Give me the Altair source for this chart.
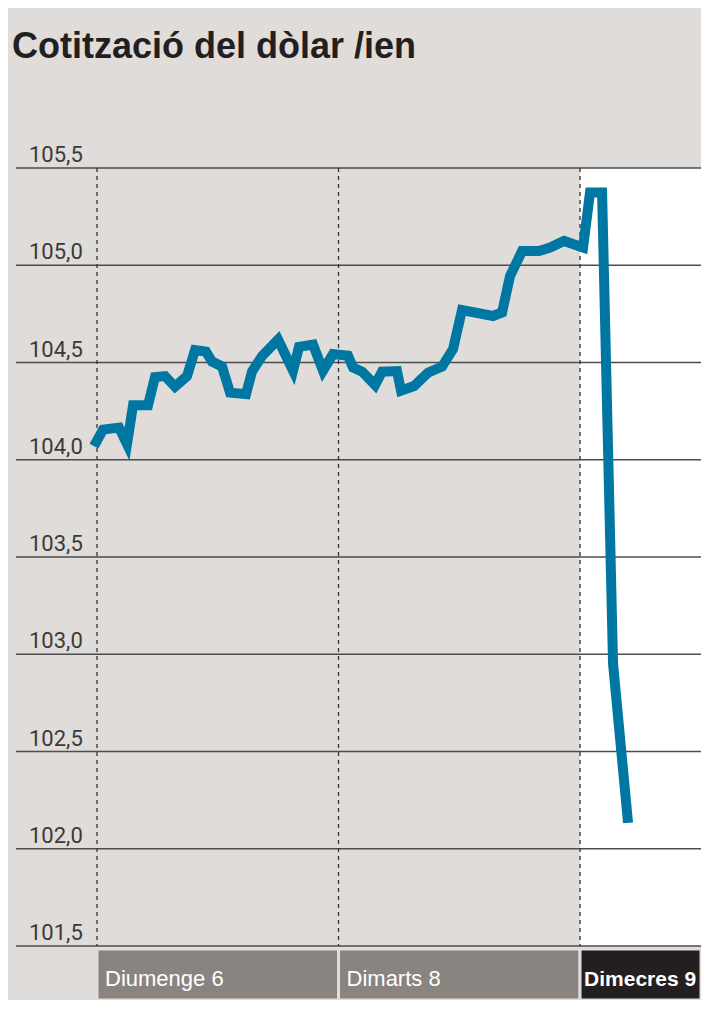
import altair as alt
import pandas as pd

# ---- data ----
title_text = "Cotització del dòlar /ien"

hours = [-0.30, 0.60, 2.19, 2.98, 3.58, 5.07, 5.76, 6.76, 7.75, 8.94,
         9.74, 10.83, 11.43, 12.42, 13.22, 14.81, 15.40, 16.40, 17.99, 19.48,
         20.07, 21.47, 22.46, 23.45, 24.94, 25.44, 26.34, 27.63, 28.32, 29.81,
         30.21, 31.50, 32.89, 34.29, 35.38, 36.27, 39.35, 40.25, 41.04, 42.24,
         43.93, 45.02, 46.41, 48.30, 48.99, 50.19, 51.28, 52.77]
values = [104.07, 104.155, 104.165, 104.08, 104.28, 104.28, 104.425, 104.43, 104.376, 104.43,
          104.564, 104.556, 104.505, 104.48, 104.345, 104.337, 104.453, 104.533, 104.618, 104.458,
          104.58, 104.592, 104.458, 104.543, 104.535, 104.474, 104.453, 104.384, 104.453, 104.456,
          104.355, 104.379, 104.448, 104.479, 104.569, 104.77, 104.739, 104.757, 104.944, 105.073,
          105.073, 105.091, 105.125, 105.091, 105.374, 105.374, 102.951, 102.133]

tick_values = [101.5, 102.0, 102.5, 103.0, 103.5, 104.0, 104.5, 105.0, 105.5]
tick_labels = ["101,5", "102,0", "102,5", "103,0", "103,5", "104,0", "104,5", "105,0", "105,5"]

day_labels = ["Diumenge 6", "Dimarts 8", "Dimecres 9"]
day_start = [0, 24, 48]
day_end = [24, 48, 60.02]
day_fill = ["#8a8480", "#8a8480", "#231f20"]
day_bold = [False, False, True]

X_DOMAIN = [-8.05, 60.02]
Y_DOMAIN = [101.5, 105.5]
BG = "#e0dcd9"

line_df = pd.DataFrame({"h": hours, "v": values})
tick_df = pd.DataFrame({"v": tick_values, "label": tick_labels})
day_df = pd.DataFrame({"start": day_start, "end": day_end, "label": day_labels,
                       "fill": day_fill, "bold": day_bold})
vline_df = pd.DataFrame({"start": day_start, "top": [Y_DOMAIN[1]] * 3, "bottom": [Y_DOMAIN[0]] * 3})
white_df = pd.DataFrame({"start": [day_start[2]], "end": [X_DOMAIN[1]],
                         "top": [Y_DOMAIN[1]], "bottom": [Y_DOMAIN[0]]})
title_df = pd.DataFrame({"t": [title_text]})

xs = alt.Scale(domain=X_DOMAIN, nice=False, zero=False)
ys = alt.Scale(domain=Y_DOMAIN, nice=False, zero=False)

white = alt.Chart(white_df).mark_rect(color="white").encode(
    x=alt.X("start:Q", scale=xs, axis=None), x2="end:Q",
    y=alt.Y("top:Q", scale=ys, axis=None), y2="bottom:Q")

grid = alt.Chart(tick_df).mark_rule(color="#4d4d4d", strokeWidth=1.3).encode(
    y=alt.Y("v:Q", scale=ys, axis=None))

vlines = alt.Chart(vline_df).mark_rule(color="#333333", strokeWidth=1.3, strokeDash=[4, 4]).encode(
    x=alt.X("start:Q", scale=xs, axis=None),
    y=alt.Y("top:Q", scale=ys, axis=None), y2="bottom:Q")

line = alt.Chart(line_df).mark_line(color="#0077a3", strokeWidth=10, strokeJoin="miter",
                                    strokeCap="butt").encode(
    x=alt.X("h:Q", scale=xs, axis=None),
    y=alt.Y("v:Q", scale=ys, axis=None))

ylabels = alt.Chart(tick_df).mark_text(align="left", baseline="alphabetic", dy=-6,
                                       font="Roboto", fontSize=22, fontWeight=400,
                                       color="#3a3a3a").encode(
    x=alt.value(13),
    y=alt.Y("v:Q", scale=ys, axis=None),
    text="label:N")

bands = alt.Chart(day_df).mark_rect(stroke=BG, strokeWidth=3).encode(
    x=alt.X("start:Q", scale=xs, axis=None), x2="end:Q",
    y=alt.value(781), y2=alt.value(832),
    color=alt.Color("fill:N", scale=None))

FONT_BAND = "Liberation Sans, Arial, sans-serif"
band_text_n = alt.Chart(day_df).transform_filter("!datum.bold").mark_text(
    align="left", baseline="alphabetic", dx=8, font=FONT_BAND, fontSize=22,
    color="white").encode(
    x=alt.X("start:Q", scale=xs, axis=None), y=alt.value(818), text="label:N")
band_text_b = alt.Chart(day_df).transform_filter("datum.bold").mark_text(
    align="left", baseline="alphabetic", dx=4, font=FONT_BAND, fontSize=21,
    fontWeight="bold", color="white").encode(
    x=alt.X("start:Q", scale=xs, axis=None), y=alt.value(818), text="label:N")

title = alt.Chart(title_df).mark_text(
    align="left", baseline="alphabetic", font="Liberation Sans, Arial, sans-serif",
    fontSize=36, fontWeight="bold", color="#231f20").encode(
    x=alt.value(-4), y=alt.value(-110), text="t:N")

chart = alt.layer(white, grid, vlines, line, ylabels, bands, band_text_n, band_text_b, title).properties(
    width=685, height=778,
    padding={"left": 8, "top": 160, "right": 0, "bottom": 54},
    autosize=alt.AutoSizeParams(type="none"),
    background=BG,
).configure_view(stroke=None)

chart.save("out.html", embed_options={"renderer": "svg", "actions": False})
